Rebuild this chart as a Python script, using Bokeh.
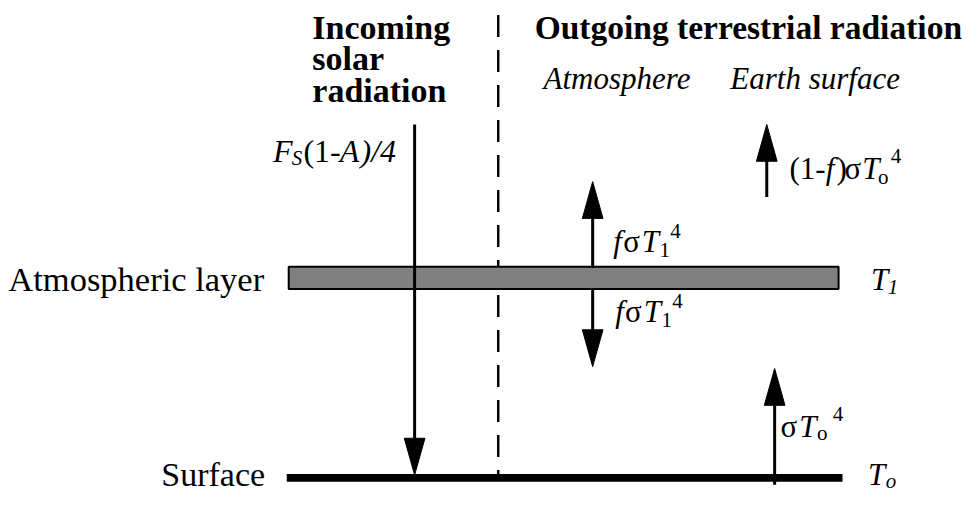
from bokeh.plotting import figure
from bokeh.models import Range1d, ColumnDataSource
from bokeh.core.properties import value
from bokeh.embed import file_html
from bokeh.resources import INLINE

FONT = "Liberation Serif"

# ---- diagram elements (reference pixel coordinates, y grows downward) ----
layer_x = [293, 852]
layer_y = [275, 298]
surface_x = [291, 856]
surface_y = [489, 497]
divider_x = [506]
divider_y = [15, 490]

# arrows: x position, start of shaft, tip of head
arrow_x = [421, 602, 602, 779, 787]
arrow_start = [128, 276, 298, 203, 500]
arrow_tip = [490, 187, 378, 128, 380]

# ---- text runs ----
run_text = [
    "Incoming", "solar", "radiation",
    "Outgoing terrestrial radiation",
    "Atmosphere", "Earth surface",
    # F_S(1-A)/4
    "F", "S", "(1-", "A", ")/4",
    # f sigma T1^4 (upper)
    "f", "σ", "T", "1", "4",
    # f sigma T1^4 (lower)
    "f", "σ", "T", "1", "4",
    # (1-f) sigma To^4
    "(1-", "f", ")", "σ", "T", "o", "4",
    # sigma To^4
    "σ", "T", "o", "4",
    # T1, To
    "T", "1", "T", "o",
]
run_x = [
    317, 317, 317,
    543,
    552, 742,
    277, 296, 308, 345, 366,
    623, 633, 652, 670, 681,
    625, 635, 654, 672, 683,
    802, 839, 850, 858, 876, 892, 905,
    793, 812, 830, 846,
    885, 902, 882, 900,
]
run_y = [
    35, 67, 100,
    35,
    88, 88,
    163, 170, 163, 163, 163,
    256, 256, 256, 265, 245,
    328, 328, 328, 337, 317,
    181, 181, 181, 181, 181, 189, 168,
    447, 447, 454, 434,
    295, 303, 497, 503,
]
run_style = [
    "bold", "bold", "bold",
    "bold",
    "italic", "italic",
    "italic", "italic", "normal", "italic", "italic",
    "italic", "normal", "italic", "normal", "normal",
    "italic", "normal", "italic", "normal", "normal",
    "normal", "italic", "normal", "normal", "italic", "normal", "normal",
    "normal", "italic", "normal", "normal",
    "italic", "italic", "italic", "italic",
]
run_size = [
    34, 34, 34,
    33.5,
    31, 31,
    32, 21, 32, 32, 32,
    31, 31, 31, 21, 21,
    31, 31, 31, 21, 21,
    31, 31, 31, 31, 31, 21, 21,
    31, 31, 21, 21,
    31, 21, 31, 21,
]

# right-aligned labels
side_text = ["Atmospheric layer", "Surface"]
side_x = [268, 269]
side_y = [295, 497]
side_size = [34.5, 34]

HEAD_LEN = 38
HEAD_W = 21
TEXT_SHIFT = -7  # screen px

p = figure(width=963, height=492, output_backend="svg", toolbar_location=None,
           x_axis_type=None, y_axis_type=None,
           x_range=Range1d(0, 979), y_range=Range1d(508, 0),
           min_border=0, outline_line_color=None, tools="")
p.grid.visible = False
p.background_fill_color = "white"
p.border_fill_color = "white"

# dashed divider
p.line(x=[divider_x[0], divider_x[0]], y=divider_y, line_color="black",
       line_width=2.5, line_dash="22 13")

# atmospheric layer
p.quad(left=[layer_x[0]], right=[layer_x[1]], top=[layer_y[0]], bottom=[layer_y[1]],
       fill_color="#808080", line_color="black", line_width=2)

# surface
p.quad(left=[surface_x[0]], right=[surface_x[1]], top=[surface_y[0]], bottom=[surface_y[1]],
       fill_color="black", line_color=None)

# arrows
shaft_end = []
hx, hy = [], []
for x, y0, y1 in zip(arrow_x, arrow_start, arrow_tip):
    d = 1 if y1 > y0 else -1
    base = y1 - d * HEAD_LEN
    shaft_end.append(base)
    hx.append([x - HEAD_W / 2, x + HEAD_W / 2, x])
    hy.append([base, base, y1])
p.segment(x0=arrow_x, y0=arrow_start, x1=arrow_x, y1=shaft_end,
          line_color="black", line_width=3)
p.patches(xs=hx, ys=hy, fill_color="black", line_color="black", line_width=1)

# text runs
for st in ["normal", "italic", "bold"]:
    idx = [i for i, s in enumerate(run_style) if s == st]
    src = ColumnDataSource(dict(
        x=[run_x[i] for i in idx], y=[run_y[i] for i in idx],
        t=[run_text[i] for i in idx], size=[f"{run_size[i]}px" for i in idx]))
    p.text(x="x", y="y", text="t", source=src, text_font=value(FONT),
           text_font_style=value(st), text_font_size="size", y_offset=TEXT_SHIFT,
           text_baseline="alphabetic", text_align="left", text_color="black")

src_side = ColumnDataSource(dict(x=side_x, y=side_y, t=side_text,
                                 size=[f"{s}px" for s in side_size]))
p.text(x="x", y="y", text="t", source=src_side, text_font=value(FONT),
       text_font_style=value("normal"), text_font_size="size", y_offset=TEXT_SHIFT,
       text_baseline="alphabetic", text_align="right", text_color="black")

open("out.html", "w").write(file_html(p, INLINE))
